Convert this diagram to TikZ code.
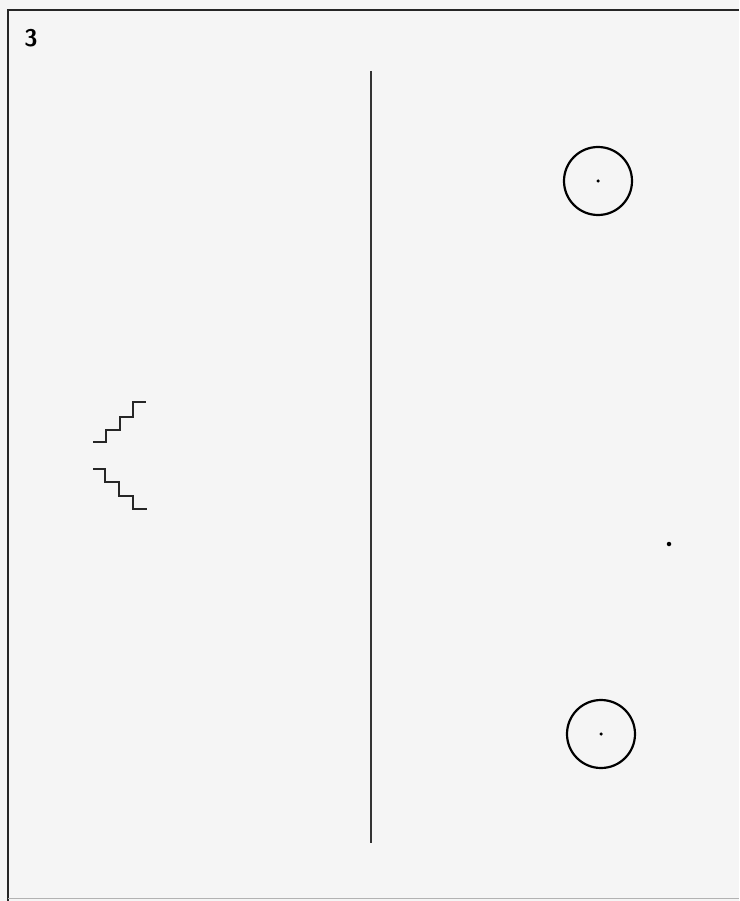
\documentclass[tikz,border=0pt]{standalone}
\usepackage{tikz}
\usetikzlibrary{positioning,calc}
\definecolor{paper}{HTML}{F5F5F5}

\begin{document}
\begin{tikzpicture}[
  x=1pt, y=-1pt,
  frame/.style={line width=2pt, black!85},
  ring/.style={draw, circle, line width=2.2pt, minimum size=68pt, inner sep=0pt},
  speck/.style={circle, fill=black, inner sep=0pt, minimum size=3.5pt},
  stair/.style={line width=2pt, black!85}
]
\fill[paper] (0,0) rectangle (739,901);
\useasboundingbox (0,0) rectangle (739,901);
% frame
\coordinate (tl) at (8,10);
\coordinate (tr) at (739,10);
\coordinate (bl) at (8,901);
\draw[frame] (tr) -- (tl) -- (bl);
\draw[black!30, line width=1pt] (8,898) -- (739,898);
\node[font=\sffamily\bfseries\fontsize{24}{26}\selectfont] (num) at (31,38) {3};
% divider
\coordinate (divtop) at (371,71);
\coordinate (divbot) at (371,843);
\draw[line width=1.8pt, black!80] (divtop) -- (divbot);
% circles
\node[ring] (upper) at (598,181) {};
\node[speck] (upperdot) at (upper.center) {};
\node[ring] (lower) at (601,734) {};
\node[speck] (lowerdot) at (lower.center) {};
\node[speck, minimum size=4.5pt] (stray) at (669,544) {};
% steps
\coordinate (up) at (93,442);
\draw[stair] (up) -- ++(13,0) -- ++(0,-12) -- ++(14,0) -- ++(0,-13)
  -- ++(13,0) -- ++(0,-15) -- ++(13,0);
\coordinate (down) at (93,469);
\draw[stair] (down) -- ++(12,0) -- ++(0,13) -- ++(14,0) -- ++(0,14)
  -- ++(14,0) -- ++(0,13) -- ++(14,0);
\end{tikzpicture}
\end{document}
